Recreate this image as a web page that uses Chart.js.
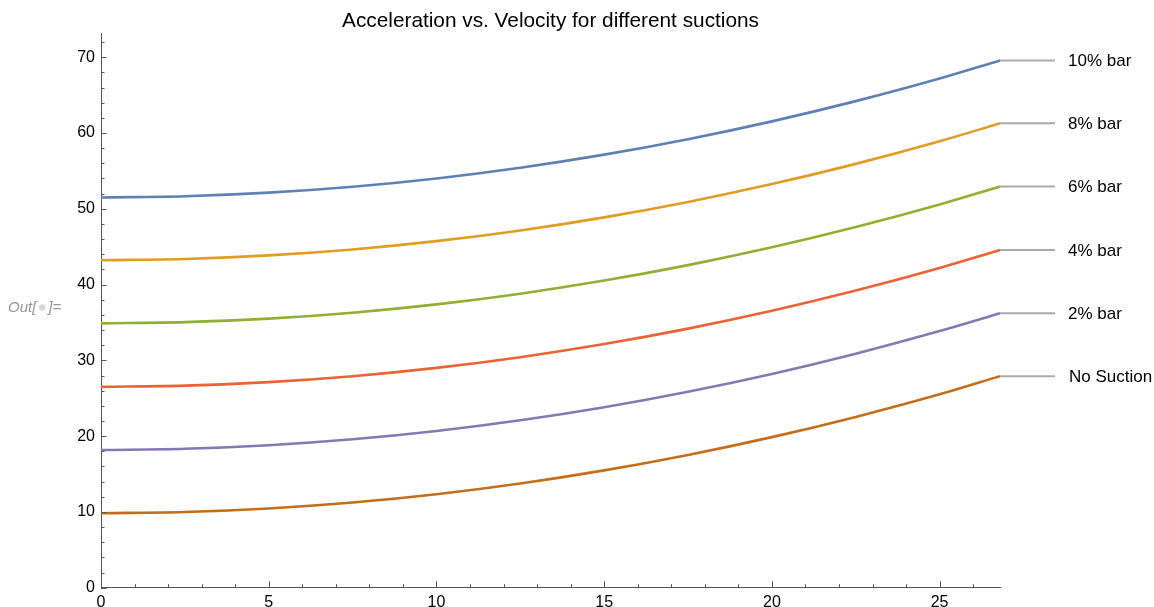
<!DOCTYPE html>
<html>
<head>
<meta charset="utf-8">
<script src="https://cdn.jsdelivr.net/npm/chart.js@4/dist/chart.umd.min.js"></script>
<style>
  html, body { margin: 0; padding: 0; background: #ffffff; }
  #wrap { position: relative; width: 1154px; height: 607px; }
</style>
</head>
<body>
<div id="wrap"><canvas id="chart" width="1154" height="607"></canvas></div>
<script>
// Velocity samples (x axis)
const velocity = [0, 2.5, 5, 7.5, 10, 12.5, 15, 17.5, 20, 22.5, 25, 26.8];

// Acceleration for each suction level
const bar10     = [51.50, 51.66, 52.13, 52.91, 54.01, 55.42, 57.15, 59.19, 61.54, 64.21, 67.19, 69.58];
const bar8      = [43.22, 43.38, 43.85, 44.63, 45.73, 47.14, 48.87, 50.91, 53.26, 55.93, 58.91, 61.28];
const bar6      = [34.88, 35.04, 35.51, 36.29, 37.39, 38.80, 40.53, 42.57, 44.92, 47.59, 50.57, 52.95];
const bar4      = [26.50, 26.66, 27.13, 27.91, 29.01, 30.42, 32.15, 34.19, 36.54, 39.21, 42.19, 44.56];
const bar2      = [18.17, 18.33, 18.80, 19.58, 20.68, 22.09, 23.82, 25.86, 28.21, 30.88, 33.86, 36.22];
const noSuction = [9.83, 9.99, 10.46, 11.24, 12.34, 13.75, 15.48, 17.52, 19.87, 22.54, 25.52, 27.92];

const seriesNames  = ["10% bar", "8% bar", "6% bar", "4% bar", "2% bar", "No Suction"];
const seriesValues = [bar10, bar8, bar6, bar4, bar2, noSuction];
const seriesColors = ["#5E81B5", "#E19C24", "#8FB032", "#EB6235", "#8778B3", "#C56E1A"];

// Axis tick values
const xTicks = [0,1,2,3,4,5,6,7,8,9,10,11,12,13,14,15,16,17,18,19,20,21,22,23,24,25,26];
const yTicks = [0,2,4,6,8,10,12,14,16,18,20,22,24,26,28,30,32,34,36,38,40,42,44,46,48,50,52,54,56,58,60,62,64,66,68,70,72];
const xMajor = [0, 5, 10, 15, 20, 25];
const yMajor = [0, 10, 20, 30, 40, 50, 60, 70];

const titleText = "Acceleration vs. Velocity for different suctions";
const FONT = "'Liberation Sans', Arial, Helvetica, sans-serif";
const AXIS_COLOR = "#555555";

const datasets = seriesValues.map((vals, i) => ({
  label: seriesNames[i],
  data: vals.map((y, j) => ({ x: velocity[j], y: y })),
  borderColor: seriesColors[i],
  backgroundColor: seriesColors[i],
  borderWidth: 2.6,
  pointRadius: 0,
  pointHoverRadius: 0,
  cubicInterpolationMode: "monotone",
  fill: false,
  clip: false
}));

// Inward ticks, title, curve labels and output prompt
const decorations = {
  id: "decorations",
  afterDraw(chart) {
    const ctx = chart.ctx;
    const xs = chart.scales.x, ys = chart.scales.y;
    const area = chart.chartArea;
    ctx.save();

    // ticks pointing into the plot
    ctx.strokeStyle = AXIS_COLOR;
    ctx.lineWidth = 1;
    ctx.beginPath();
    yTicks.forEach(v => {
      const py = Math.round(ys.getPixelForValue(v)) + 0.5;
      const len = yMajor.includes(v) ? 5.5 : 3.5;
      ctx.moveTo(area.left, py);
      ctx.lineTo(area.left + len, py);
    });
    xTicks.forEach(v => {
      const px = Math.round(xs.getPixelForValue(v)) + 0.5;
      const len = xMajor.includes(v) ? 6.5 : 3.5;
      ctx.moveTo(px, area.bottom);
      ctx.lineTo(px, area.bottom - len);
    });
    ctx.stroke();

    // title
    ctx.fillStyle = "#000000";
    ctx.font = "20.8px " + FONT;
    ctx.textAlign = "center";
    ctx.textBaseline = "alphabetic";
    ctx.fillText(titleText, (area.left + area.right) / 2, 27);

    // curve labels at the right end of each line
    ctx.font = "17px " + FONT;
    ctx.textAlign = "left";
    ctx.textBaseline = "middle";
    chart.data.datasets.forEach((ds, i) => {
      const meta = chart.getDatasetMeta(i);
      const last = meta.data[meta.data.length - 1];
      ctx.strokeStyle = "#AAAAAA";
      ctx.lineWidth = 2;
      ctx.beginPath();
      ctx.moveTo(last.x, last.y);
      ctx.lineTo(last.x + 55, last.y);
      ctx.stroke();
      ctx.fillStyle = "#000000";
      const dx = ds.label === "No Suction" ? 69 : 68;
      ctx.fillText(ds.label, last.x + dx, last.y + 1);
    });

    // output prompt
    ctx.font = "italic 15px " + FONT;
    ctx.textBaseline = "alphabetic";
    ctx.textAlign = "left";
    ctx.fillStyle = "#959595";
    ctx.fillText("Out[", 8, 312);
    const w = ctx.measureText("Out[").width;
    ctx.fillStyle = "#D8D8D8";
    ctx.beginPath();
    ctx.arc(8 + w + 6, 307.5, 3.2, 0, Math.PI * 2);
    ctx.fill();
    ctx.fillStyle = "#959595";
    ctx.fillText("]=", 8 + w + 12, 312);

    ctx.restore();
  }
};

new Chart(document.getElementById("chart"), {
  type: "line",
  data: { datasets },
  options: {
    responsive: false,
    animation: false,
    events: [],
    layout: { padding: { top: 33, right: 154, left: 0, bottom: 0 } },
    plugins: {
      legend: { display: false },
      title: { display: false },
      tooltip: { enabled: false }
    },
    scales: {
      x: {
        type: "linear",
        min: 0,
        max: 26.8,
        afterBuildTicks: (scale) => { scale.ticks = xTicks.map(v => ({ value: v })); },
        afterFit: (scale) => { scale.height = 19.3; },
        grid: { display: true, drawOnChartArea: false, drawTicks: false, color: "rgba(0,0,0,0)" },
        border: { display: true, color: AXIS_COLOR, width: 1 },
        ticks: {
          autoSkip: false,
          maxRotation: 0,
          padding: 5,
          color: "#000000",
          font: { family: FONT, size: 16 },
          callback: (v) => xMajor.includes(v) ? String(v) : ""
        }
      },
      y: {
        type: "linear",
        min: 0,
        max: 73.2,
        afterBuildTicks: (scale) => { scale.ticks = yTicks.map(v => ({ value: v })); },
        afterFit: (scale) => { scale.width = 101; },
        grid: { display: true, drawOnChartArea: false, drawTicks: false, color: "rgba(0,0,0,0)" },
        border: { display: true, color: AXIS_COLOR, width: 1 },
        ticks: {
          autoSkip: false,
          padding: 6,
          color: "#000000",
          font: { family: FONT, size: 16 },
          callback: (v) => yMajor.includes(v) ? String(v) : ""
        }
      }
    }
  },
  plugins: [decorations]
});
</script>
</body>
</html>
